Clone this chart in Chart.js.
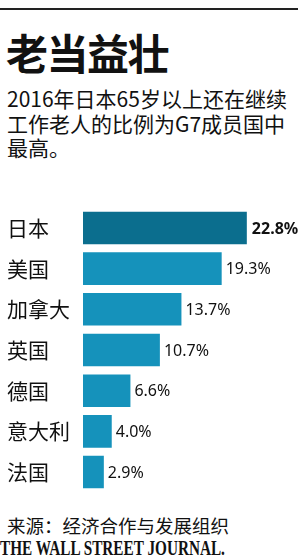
<!DOCTYPE html>
<html>
<head>
<meta charset="utf-8">
<script src="https://cdn.jsdelivr.net/npm/chart.js@4.4.1/dist/chart.umd.min.js"></script>
<style>
  html, body { margin: 0; padding: 0; background: #fff; }
  body { width: 300px; height: 560px; position: relative; overflow: hidden;
         font-family: "Noto Sans CJK SC", "Noto Sans", sans-serif; color: #111; }
  #rule { position: absolute; left: 0; top: 8px; width: 298px; height: 2px; background: #222; }
  #title { position: absolute; left: 6px; top: 24px; font-size: 42px; font-weight: 700; line-height: 56px; letter-spacing: -1.5px; }
  #subtitle { position: absolute; left: 7px; top: 86px; width: 295px; font-size: 21px; line-height: 24.5px; }
  #chartBox { position: absolute; left: 0; top: 192px; width: 300px; height: 316px; }
  #source { position: absolute; left: 7px; top: 512px; font-size: 18.5px; line-height: 26px; white-space: nowrap; }
  #wsj { position: absolute; left: 0; top: 537px; font-family: "Liberation Serif", serif; font-weight: 700;
         font-size: 20px; line-height: 22px; white-space: nowrap; transform-origin: 0 0; }
</style>
</head>
<body>
<div id="rule"></div>
<div id="title">老当益壮</div>
<div id="subtitle">2016年日本65岁以上还在继续工作老人的比例为G7成员国中最高。</div>
<div id="chartBox"><canvas id="myChart"></canvas></div>
<div id="source">来源：经济合作与发展组织</div>
<div id="wsj">THE WALL STREET JOURNAL.</div>

<script>
// 数据
const countries = ['日本', '美国', '加拿大', '英国', '德国', '意大利', '法国'];
const shares = [22.8, 19.3, 13.7, 10.7, 6.6, 4.0, 2.9];
const barColors = ['#0b6e8e', '#1592bb', '#1592bb', '#1592bb', '#1592bb', '#1592bb', '#1592bb'];

// 把报头缩放到参考图的宽度
const wsj = document.getElementById('wsj');
wsj.style.transform = 'scaleX(' + (225 / wsj.offsetWidth) + ')';

// 在柱子末端写数值
const valueLabels = {
    id: 'valueLabels',
    afterDatasetsDraw(chart) {
        const ctx = chart.ctx;
        const meta = chart.getDatasetMeta(0);
        ctx.save();
        ctx.textBaseline = 'middle';
        ctx.textAlign = 'left';
        ctx.fillStyle = '#111';
        meta.data.forEach((bar, i) => {
            ctx.font = (i === 0 ? '700 ' : '400 ') + '16px "Noto Sans", sans-serif';
            ctx.fillText(shares[i].toFixed(1) + '%', bar.x + (i === 0 ? 5 : 4), bar.y + 1);
        });
        ctx.restore();
    }
};

const ctx = document.getElementById('myChart').getContext('2d');
new Chart(ctx, {
    type: 'bar',
    data: {
        labels: countries,
        datasets: [{
            data: shares,
            backgroundColor: barColors,
            borderWidth: 0,
            categoryPercentage: 0.8,
            barPercentage: 1.0
        }]
    },
    options: {
        indexAxis: 'y',
        responsive: true,
        maintainAspectRatio: false,
        animation: false,
        layout: { padding: { left: 7, right: 0, top: 0, bottom: 0 } },
        plugins: {
            legend: { display: false },
            tooltip: { enabled: false }
        },
        scales: {
            x: {
                display: false,
                min: 0,
                max: 30.2
            },
            y: {
                grid: { display: false },
                border: { display: false },
                ticks: {
                    crossAlign: 'far',
                    color: '#111',
                    font: { family: '"Noto Sans CJK SC", sans-serif', size: 21 }
                },
                afterFit(axis) { axis.width = 76; }
            }
        }
    },
    plugins: [valueLabels]
});
</script>
</body>
</html>
